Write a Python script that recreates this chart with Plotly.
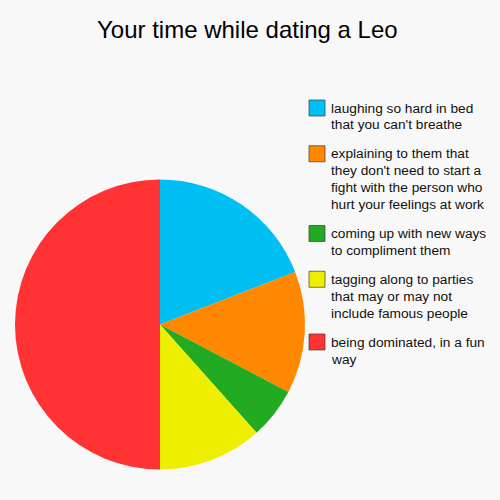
import plotly.graph_objects as go

# Data
labels = [
    "laughing so hard in bed<br>that you can't breathe",
    "explaining to them that<br>they don't need to start a<br>fight with the person who<br>hurt your feelings at work",
    "coming up with new ways<br>to compliment them",
    "tagging along to parties<br>that may or may not<br>include famous people",
    "being dominated, in a fun<br>way",
]
values = [19.1, 13.6, 5.7, 11.6, 50.0]
colors = ["#00BFF3", "#FF8800", "#22AA22", "#EEEE00", "#FF3333"]
title = "Your time while dating a Leo"

W, H = 500, 500
bg = "#F8F8F8"
font = "Liberation Sans, Arial, sans-serif"

pie = go.Pie(
    labels=labels,
    values=values,
    sort=False,
    direction="clockwise",
    rotation=0,
    marker=dict(colors=colors, line=dict(width=0)),
    textinfo="none",
    hoverinfo="label+percent",
    domain=dict(x=[15 / W, 305 / W], y=[1 - 469.5 / H, 1 - 179.5 / H]),
    showlegend=False,
)

fig = go.Figure(data=[pie])

# hand-made legend (boxes + wrapped text) on the right
shapes, annotations = [], []
top = 100
line_h = 17
gap = 11.75
box = 16
for lab, col in zip(labels, colors):
    lines = lab.split("<br>")
    shapes.append(dict(
        type="rect", xref="paper", yref="paper",
        x0=309 / W, x1=(309 + box) / W,
        y0=1 - top / H, y1=1 - (top + box) / H,
        fillcolor=col, line=dict(color="rgba(60,60,60,0.7)", width=1),
    ))
    for i, ln in enumerate(lines):
        annotations.append(dict(
            text=ln, xref="paper", yref="paper",
            x=330 / W, y=1 - (top - 0.5 + i * line_h) / H,
            xanchor="left", yanchor="top", align="left",
            showarrow=False, borderpad=0,
            font=dict(family=font, size=13.7, color="#111111"),
        ))
    top += len(lines) * line_h + gap

annotations.append(dict(
    text=title, xref="paper", yref="paper",
    x=247 / W, y=1 - 29 / H, xanchor="center", yanchor="middle",
    showarrow=False, font=dict(family=font, size=24, color="#000000"),
))

fig.update_layout(
    width=W, height=H,
    margin=dict(l=0, r=0, t=0, b=0),
    paper_bgcolor=bg, plot_bgcolor=bg,
    shapes=shapes, annotations=annotations,
)

# drop the default page margin so the grey fills the whole window
fig.write_html(
    "out.html",
    config={"displayModeBar": False},
    post_script="document.body.style.margin='0';"
                "document.body.style.background='%s';" % bg,
)
